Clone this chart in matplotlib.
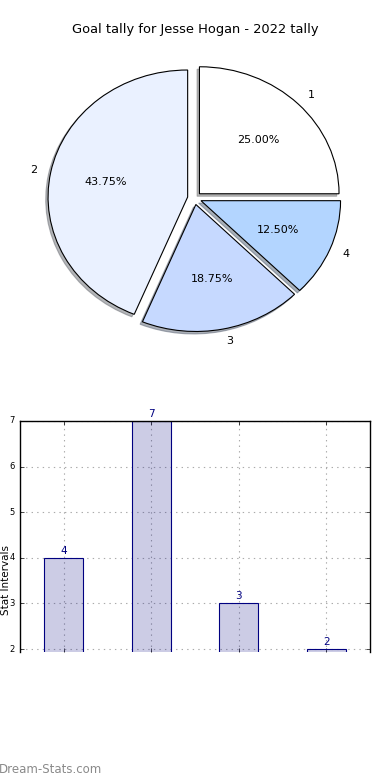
import matplotlib
matplotlib.use('Agg')
import matplotlib.pyplot as plt

# data
labels = ['1', '2', '3', '4']
goals = [4, 7, 3, 2]
pie_colors = ['#ffffff', '#eaf1ff', '#c6d9ff', '#b3d5ff']
title = 'Goal tally for Jesse Hogan - 2022 tally'

plt.style.use('classic')
fig = plt.figure(figsize=(3.9, 7.8), dpi=100, facecolor='white')

# pie
ax1 = fig.add_axes([20/390., 1 - 357/780., 349/390., 317.5/780.])
wedges, texts, autotexts = ax1.pie(goals, labels=labels, colors=pie_colors,
                                   explode=[0.05]*4, startangle=0,
                                   shadow={'ox': -0.012, 'oy': -0.014, 'shade': 0.55},
                                   autopct='%1.2f%%',
                                   wedgeprops={'linewidth': 0.8, 'edgecolor': 'black'},
                                   textprops={'fontsize': 8, 'family': 'DejaVu Sans'})
ax1.set_aspect('auto')
ax1.set_xlim(-1.25, 1.25)
ax1.set_ylim(-1.25, 1.25)
fig.text(0.5, 1 - 30/780., title, ha='center', va='center', fontsize=9.4, family='DejaVu Sans')

# bars
ax2 = fig.add_axes([20/390., 1 - 652/780., 350/390., 231/780.])
x = range(len(goals))
ax2.bar(x, goals, width=0.45, align='center', color='navy', alpha=0.2, edgecolor='none')
ax2.bar(x, goals, width=0.45, align='center', color='none', edgecolor='navy', linewidth=0.8)
for i, v in enumerate(goals):
    ax2.text(i, v + 0.05, str(v), ha='center', va='bottom', color='navy', fontsize=7.5, family='DejaVu Sans')
ax2.set_xlim(-0.5, 3.5)
ax2.set_ylim(1.935, 7)
ax2.set_xticks(list(x))
ax2.set_xticklabels([])
ax2.set_yticks([2, 3, 4, 5, 6, 7])
ax2.tick_params(labelsize=6, length=3)
ax2.grid(True, color='#aaaaaa', linestyle=':', linewidth=0.8)
ax2.set_axisbelow(True)
ax2.spines['bottom'].set_visible(False)
ax2.set_ylabel('Stat Intervals', fontsize=7.5, family='DejaVu Sans')
ax2.yaxis.set_label_coords(-0.027, 0.31)

fig.text(-0.002, 0.4/78., 'Dream-Stats.com', fontsize=8.5, color='#8a8a8a', ha='left', va='bottom',
         family='DejaVu Sans')

fig.savefig('out.png', dpi=100, facecolor='white')
